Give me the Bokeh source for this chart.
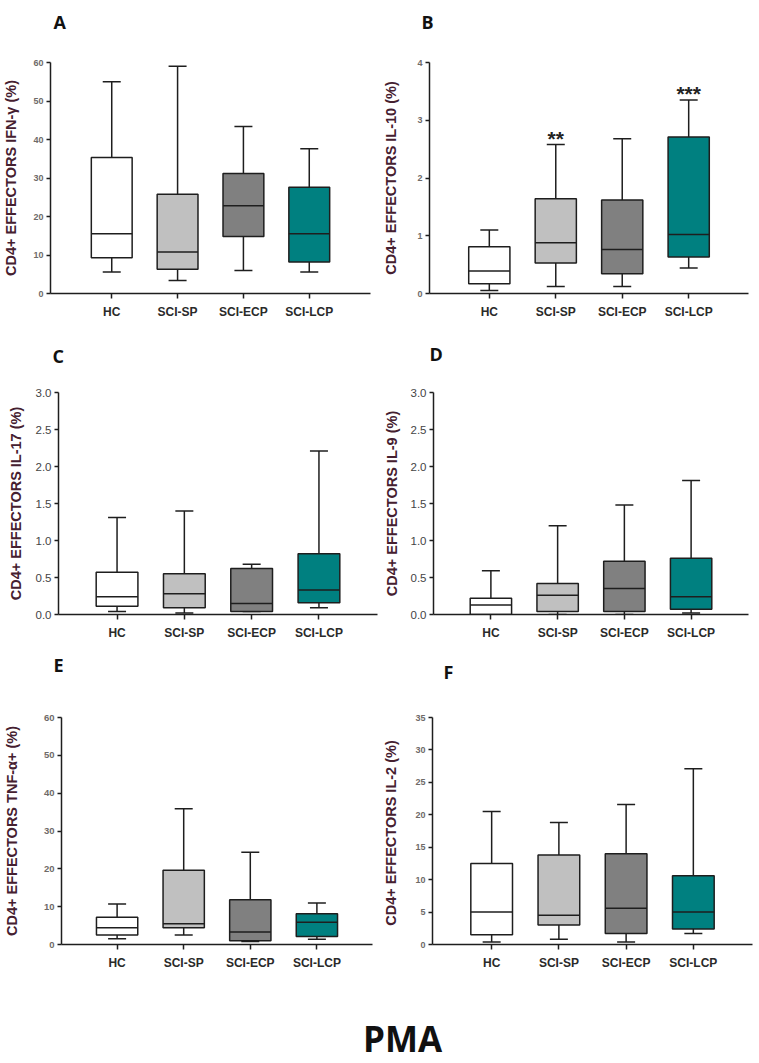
from bokeh.plotting import figure
from bokeh.models import (ColumnDataSource, FactorRange, Range1d, Whisker, TeeHead,
                          FixedTicker, NumeralTickFormatter, Label, Title)
from bokeh.layouts import column, row
from bokeh.embed import file_html
from bokeh.resources import INLINE
from bokeh.core.properties import value
from bokeh.transform import dodge

# ---------------- data ----------------
groups = ["HC", "SCI-SP", "SCI-ECP", "SCI-LCP"]
box_colors = ["#ffffff", "#c0c0c0", "#808080", "#008080"]

# A: IFN-gamma
a_max = [55.0, 59.0, 43.4, 37.6]
a_q3 = [35.3, 25.8, 31.2, 27.6]
a_med = [15.5, 10.8, 22.8, 15.5]
a_q1 = [9.3, 6.3, 14.8, 8.2]
a_min = [5.6, 3.4, 6.0, 5.6]
a_labels = ["HC", "SCI- SP", "SCI-ECP", "SCI-LCP"]

# B: IL-10
b_max = [1.10, 2.58, 2.68, 3.35]
b_q3 = [0.81, 1.64, 1.62, 2.71]
b_med = [0.39, 0.88, 0.76, 1.02]
b_q1 = [0.17, 0.53, 0.34, 0.63]
b_min = [0.05, 0.12, 0.12, 0.44]
b_sig = ["", "**", "", "***"]
b_labels = ["HC", "SCI-SP", "SCI-ECP", "SCI-LCP"]

# C: IL-17
c_max = [1.31, 1.40, 0.68, 2.21]
c_q3 = [0.57, 0.55, 0.62, 0.82]
c_med = [0.24, 0.28, 0.15, 0.33]
c_q1 = [0.11, 0.09, 0.04, 0.16]
c_min = [0.04, 0.02, 0.04, 0.09]
c_labels = ["HC", "SCI-SP", "SCI-ECP", "SCI-LCP"]

# D: IL-9
d_max = [0.59, 1.20, 1.48, 1.81]
d_q3 = [0.22, 0.42, 0.72, 0.76]
d_med = [0.13, 0.26, 0.35, 0.24]
d_q1 = [0.0, 0.04, 0.04, 0.07]
d_min = [0.0, 0.0, 0.0, 0.02]
d_labels = ["HC", "SCI- SP", "SCI-ECP", "SCI-LCP"]

# E: TNF-alpha
e_max = [10.7, 35.9, 24.4, 11.0]
e_q3 = [7.2, 19.6, 11.8, 8.1]
e_med = [4.4, 5.5, 3.3, 5.9]
e_q1 = [2.5, 4.4, 1.0, 2.1]
e_min = [1.5, 2.5, 0.8, 1.4]
e_labels = ["HC", "SCI-SP", "SCI-ECP", "SCI-LCP"]

# F: IL-2
f_max = [20.5, 18.8, 21.6, 27.1]
f_q3 = [12.5, 13.8, 14.0, 10.6]
f_med = [5.0, 4.5, 5.6, 5.0]
f_q1 = [1.5, 3.0, 1.7, 2.4]
f_min = [0.4, 0.8, 0.4, 1.7]
f_labels = ["HC", "SCI- SP", "SCI-ECP", "SCI-LCP"]

FONT = "Liberation Sans"
LINE = "#1e1e1e"
YLAB_COLOR = "#452030"


def panel(letter, ylabel, ymax, ystep, fmt, mx, q3, med, q1, mn, labels,
          width, height, bl, br, bt, bb, pad, letter_dx, letter_gap,
          tick_size, tick_style, tick_color, cat_size,
          ylab_standoff, sig=None, sig_off=0.0):
    p = figure(width=width, height=height, x_range=FactorRange(*groups),
               y_range=Range1d(0, ymax), output_backend="svg",
               toolbar_location=None, min_border_left=bl, min_border_right=br,
               min_border_top=bt, min_border_bottom=bb)
    p.x_range.range_padding = pad
    p.x_range.range_padding_units = "absolute"
    src = ColumnDataSource(dict(group=groups, mx=mx, q3=q3, med=med, q1=q1,
                                mn=mn, color=box_colors))
    p.vbar(x="group", width=0.62, top="q3", bottom="q1", fill_color="color",
           line_color=LINE, line_width=1.5, source=src)
    p.segment(x0=dodge("group", -0.31, range=p.x_range), y0="med",
              x1=dodge("group", 0.31, range=p.x_range), y1="med",
              line_color=LINE, line_width=1.5, source=src)
    up = Whisker(source=src, base="group", upper="mx", lower="q3",
                 upper_head=TeeHead(size=18, line_width=1.5, line_color=LINE),
                 lower_head=None, line_width=1.5, line_color=LINE)
    lo = Whisker(source=src, base="group", upper="q1", lower="mn",
                 lower_head=TeeHead(size=18, line_width=1.5, line_color=LINE),
                 upper_head=None, line_width=1.5, line_color=LINE)
    p.add_layout(up)
    p.add_layout(lo)
    if sig is not None:
        ssrc = ColumnDataSource(dict(group=groups, y=[m + sig_off for m in mx], t=sig))
        p.text(x="group", y="y", text="t", source=ssrc, text_align="center",
               text_baseline="middle", text_font=value(FONT),
               text_font_style="bold", text_font_size="21px", text_color="#222222")

    p.xgrid.visible = False
    p.ygrid.visible = False
    p.outline_line_color = None
    p.background_fill_color = "white"
    p.border_fill_color = "white"

    ticks = []
    v = 0.0
    while v <= ymax + 1e-9:
        ticks.append(round(v, 4))
        v += ystep
    p.yaxis.ticker = FixedTicker(ticks=ticks)
    p.yaxis.formatter = NumeralTickFormatter(format=fmt)
    p.yaxis.minor_tick_line_color = None
    p.yaxis.major_tick_in = 0
    p.yaxis.major_tick_out = 4
    p.yaxis.major_label_standoff = 3
    p.yaxis.major_label_text_font = FONT
    p.yaxis.major_label_text_font_size = tick_size
    p.yaxis.major_label_text_font_style = tick_style
    p.yaxis.major_label_text_color = tick_color
    p.yaxis.axis_label = ylabel
    p.yaxis.axis_label_text_font = FONT
    p.yaxis.axis_label_text_font_size = "14.5px"
    p.yaxis.axis_label_text_font_style = "bold"
    p.yaxis.axis_label_text_color = YLAB_COLOR
    p.yaxis.axis_label_standoff = ylab_standoff

    p.xaxis.major_tick_in = 0
    p.xaxis.major_tick_out = 5
    p.xaxis.major_label_standoff = 6
    p.xaxis.major_label_text_font = FONT
    p.xaxis.major_label_text_font_size = cat_size
    p.xaxis.major_label_text_font_style = "bold"
    p.xaxis.major_label_text_color = "#2a2a2a"
    p.xaxis.major_label_overrides = {g: l for g, l in zip(groups, labels)}
    p.xaxis.minor_tick_line_color = None

    for ax in (p.xaxis, p.yaxis):
        ax.axis_line_width = 1.5
        ax.axis_line_color = LINE
        ax.major_tick_line_width = 1.5
        ax.major_tick_line_color = LINE

    # invisible spacer between frame and panel letter
    p.add_layout(Title(text=" ", text_font_size="2px", standoff=max(letter_gap - 3, 0),
                       text_color="white"), "above")
    p.title.text = letter
    p.title.align = "left"
    p.title.offset = letter_dx
    p.title.standoff = 0
    p.title.text_font = "Open Sans"
    p.title.text_font_style = "bold"
    p.title.text_font_size = "18px"
    p.title.text_color = "#111111"
    return p


pA = panel("A", "CD4+ EFFECTORS IFN-γ (%)", 60, 10, "0", a_max, a_q3, a_med, a_q1, a_min,
           a_labels, 380, 328, 48, 10, 62, 35, 0.43, 3, 28,
           "9px", "bold", "#6e6a68", "12px", 11)
pB = panel("B", "CD4+ EFFECTORS IL-10 (%)", 4, 1, "0", b_max, b_q3, b_med, b_q1, b_min,
           b_labels, 379, 328, 48, 11, 62, 35, 0.40, -8, 28,
           "9px", "bold", "#6e6a68", "12px", 15, sig=b_sig, sig_off=0.11)
pC = panel("C", "CD4+ EFFECTORS IL-17 (%)", 3.0, 0.5, "0.0", c_max, c_q3, c_med, c_q1, c_min,
           c_labels, 380, 322, 58, 3, 57, 36, 0.37, -6, 24,
           "11.5px", "normal", "#444444", "12px", 9)
pD = panel("D", "CD4+ EFFECTORS IL-9 (%)", 3.0, 0.5, "0.0", d_max, d_q3, d_med, d_q1, d_min,
           d_labels, 379, 322, 51, 11, 64, 29, 0.36, -4, 26,
           "11.5px", "normal", "#444444", "12px", 8)
pE = panel("E", "CD4+ EFFECTORS TNF-α+ (%)", 60, 10, "0", e_max, e_q3, e_med, e_q1, e_min,
           e_labels, 380, 350, 57, 8, 65, 56, 0.335, -8, 40,
           "9.5px", "bold", "#6e6a68", "12px", 21)
pF = panel("F", "CD4+  EFFECTORS IL-2 (%)", 35, 5, "0", f_max, f_q3, f_med, f_q1, f_min,
           f_labels, 379, 350, 52, 7, 67, 55, 0.38, 11, 33,
           "9px", "bold", "#6e6a68", "12px", 13)

pPMA = figure(width=759, height=63, x_range=Range1d(0, 1), y_range=Range1d(0, 1),
              output_backend="svg", toolbar_location=None, x_axis_type=None,
              y_axis_type=None, min_border=0)
pPMA.outline_line_color = None
pPMA.grid.visible = False
pPMA.add_layout(Label(x=402, y=25, x_units="screen", y_units="screen", text="PMA",
                      text_font="Open Sans", text_font_style="bold",
                      text_font_size="35px", text_align="center",
                      text_baseline="middle", text_color="#111111"))

layout = column(row(pA, pB), row(pC, pD), row(pE, pF), pPMA)
open("out.html", "w").write(file_html(layout, INLINE))
